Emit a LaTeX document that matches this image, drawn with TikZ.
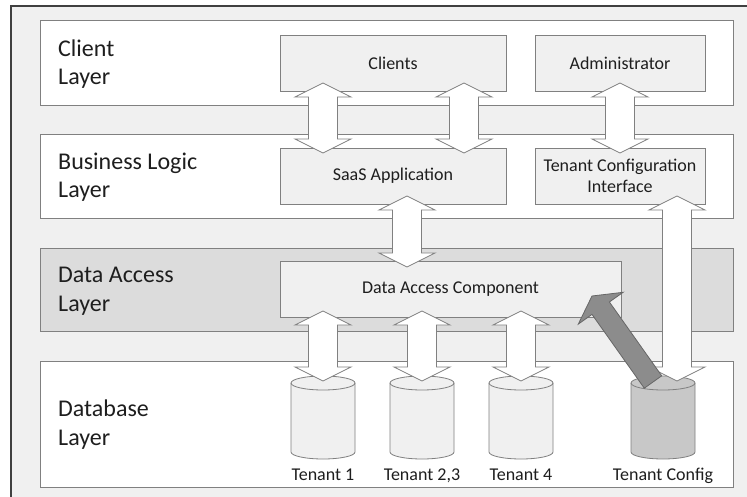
\documentclass[tikz,border=0pt]{standalone}
\usepackage{fontspec}
\setmainfont{Carlito}
\definecolor{panel}{HTML}{F0F0F0}
\definecolor{dalayer}{HTML}{DCDCDC}
\definecolor{edge}{HTML}{808080}
\definecolor{frameline}{HTML}{404040}
\definecolor{ink}{HTML}{1E1E1E}
\definecolor{cfgdb}{HTML}{C8C8C8}
\definecolor{cfgarrow}{HTML}{8C8C8C}
\tikzset{
  layer/.style={draw=edge, line width=0.9pt},
  compbox/.style={draw=edge, line width=0.9pt, fill=panel, text=ink,
    font=\fontsize{18}{21.5}\selectfont, align=center, inner sep=0pt},
  layerlabel/.style={anchor=base west, inner sep=0pt, text=ink, align=left,
    font=\fontsize{24}{28.5}\selectfont},
  dblabel/.style={anchor=base, inner sep=0pt, text=ink,
    font=\fontsize{18}{21}\selectfont},
  barrow/.style={draw=edge, line width=0.8pt, fill=white, line join=miter},
  cylface/.style={draw=edge, line width=0.8pt},
}
% vertical two-headed block arrow: centre x, top tip y, bottom tip y
\newcommand\bidiarrow[3]{%
  \draw[barrow] (#1,#2) -- (#1+28,#2+14) -- (#1+14.5,#2+14) -- (#1+14.5,#3-14)
    -- (#1+28,#3-14) -- (#1,#3) -- (#1-28,#3-14) -- (#1-14.5,#3-14)
    -- (#1-14.5,#2+14) -- (#1-28,#2+14) -- cycle;}
% database cylinder: name, centre x, fill colour
\newcommand\dbcyl[3]{%
  \path[cylface, fill=#3] (#2-32,383) -- (#2-32,452) arc[start angle=180, end angle=360, x radius=32pt, y radius=7pt]
    -- (#2+32,383) arc[start angle=0, end angle=180, x radius=32pt, y radius=7pt] -- cycle;
  \draw[cylface] (#2-32,383) arc[start angle=180, end angle=360, x radius=32pt, y radius=7pt];
  \coordinate (#1) at (#2,383);}
\begin{document}
\begin{tikzpicture}[x=1pt, y=-1pt]
\useasboundingbox (0,0) rectangle (747,497);
\clip (0,0) rectangle (747,497);
\fill[white] (0,0) rectangle (747,497);
% outer frame
\draw[frameline, line width=1.2pt, fill=panel] (11,6) rectangle (800,560);

% layers
\path[layer, fill=white]   (40,20)  rectangle (733,105);
\path[layer, fill=white]   (40,134) rectangle (733,218);
\path[layer, fill=dalayer] (40,248) rectangle (733,331);
\path[layer, fill=white]   (40,361) rectangle (733,487);

\node[layerlabel] (lclient) at (58,85)  {Client\\Layer};
\node[layerlabel] (lbiz)    at (58,198) {Business Logic\\Layer};
\node[layerlabel] (lda)     at (58,311) {Data Access\\Layer};
\node[layerlabel] (ldb)     at (58,445) {Database\\Layer};

% components
\node[compbox, minimum width=226pt, minimum height=56pt] (clients) at (393,63)  {Clients};
\node[compbox, minimum width=170pt, minimum height=56pt] (admin)   at (620,63)  {Administrator};
\node[compbox, minimum width=226pt, minimum height=56pt] (saas)    at (393,176) {SaaS Application};
\node[compbox, minimum width=170pt, minimum height=56pt] (tci)     at (620,176) {Tenant Configuration\\Interface};
\node[compbox, minimum width=341pt, minimum height=56pt] (dac)     at (450.5,289) {Data Access Component};

% databases
\dbcyl{t1}{323}{panel}
\dbcyl{t23}{422}{panel}
\dbcyl{t4}{521}{panel}
\dbcyl{tc}{663}{cfgdb}
\node[dblabel] (lt1)  at (323,480) {Tenant 1};
\node[dblabel] (lt23) at (422,480) {Tenant 2,3};
\node[dblabel] (lt4)  at (521,480) {Tenant 4};
\node[dblabel] (ltc)  at (663,480) {Tenant Config};

% data flows
\bidiarrow{323}{83}{153}
\bidiarrow{464}{83}{153}
\bidiarrow{620}{83}{153}
\bidiarrow{407}{196}{267}
\bidiarrow{677}{196}{381}
\bidiarrow{323}{311}{381}
\bidiarrow{422}{311}{381}
\bidiarrow{521}{311}{381}

% configuration feed from the tenant config store
\draw[draw=frameline!80, line width=0.8pt, fill=cfgarrow, line join=miter]
  (661.7,375.8) -- (609.4,302.0) -- (623.1,292.3) -- (592,296)
  -- (578.3,324.1) -- (592.0,314.4) -- (644.3,388.2) -- cycle;
\end{tikzpicture}
\end{document}
